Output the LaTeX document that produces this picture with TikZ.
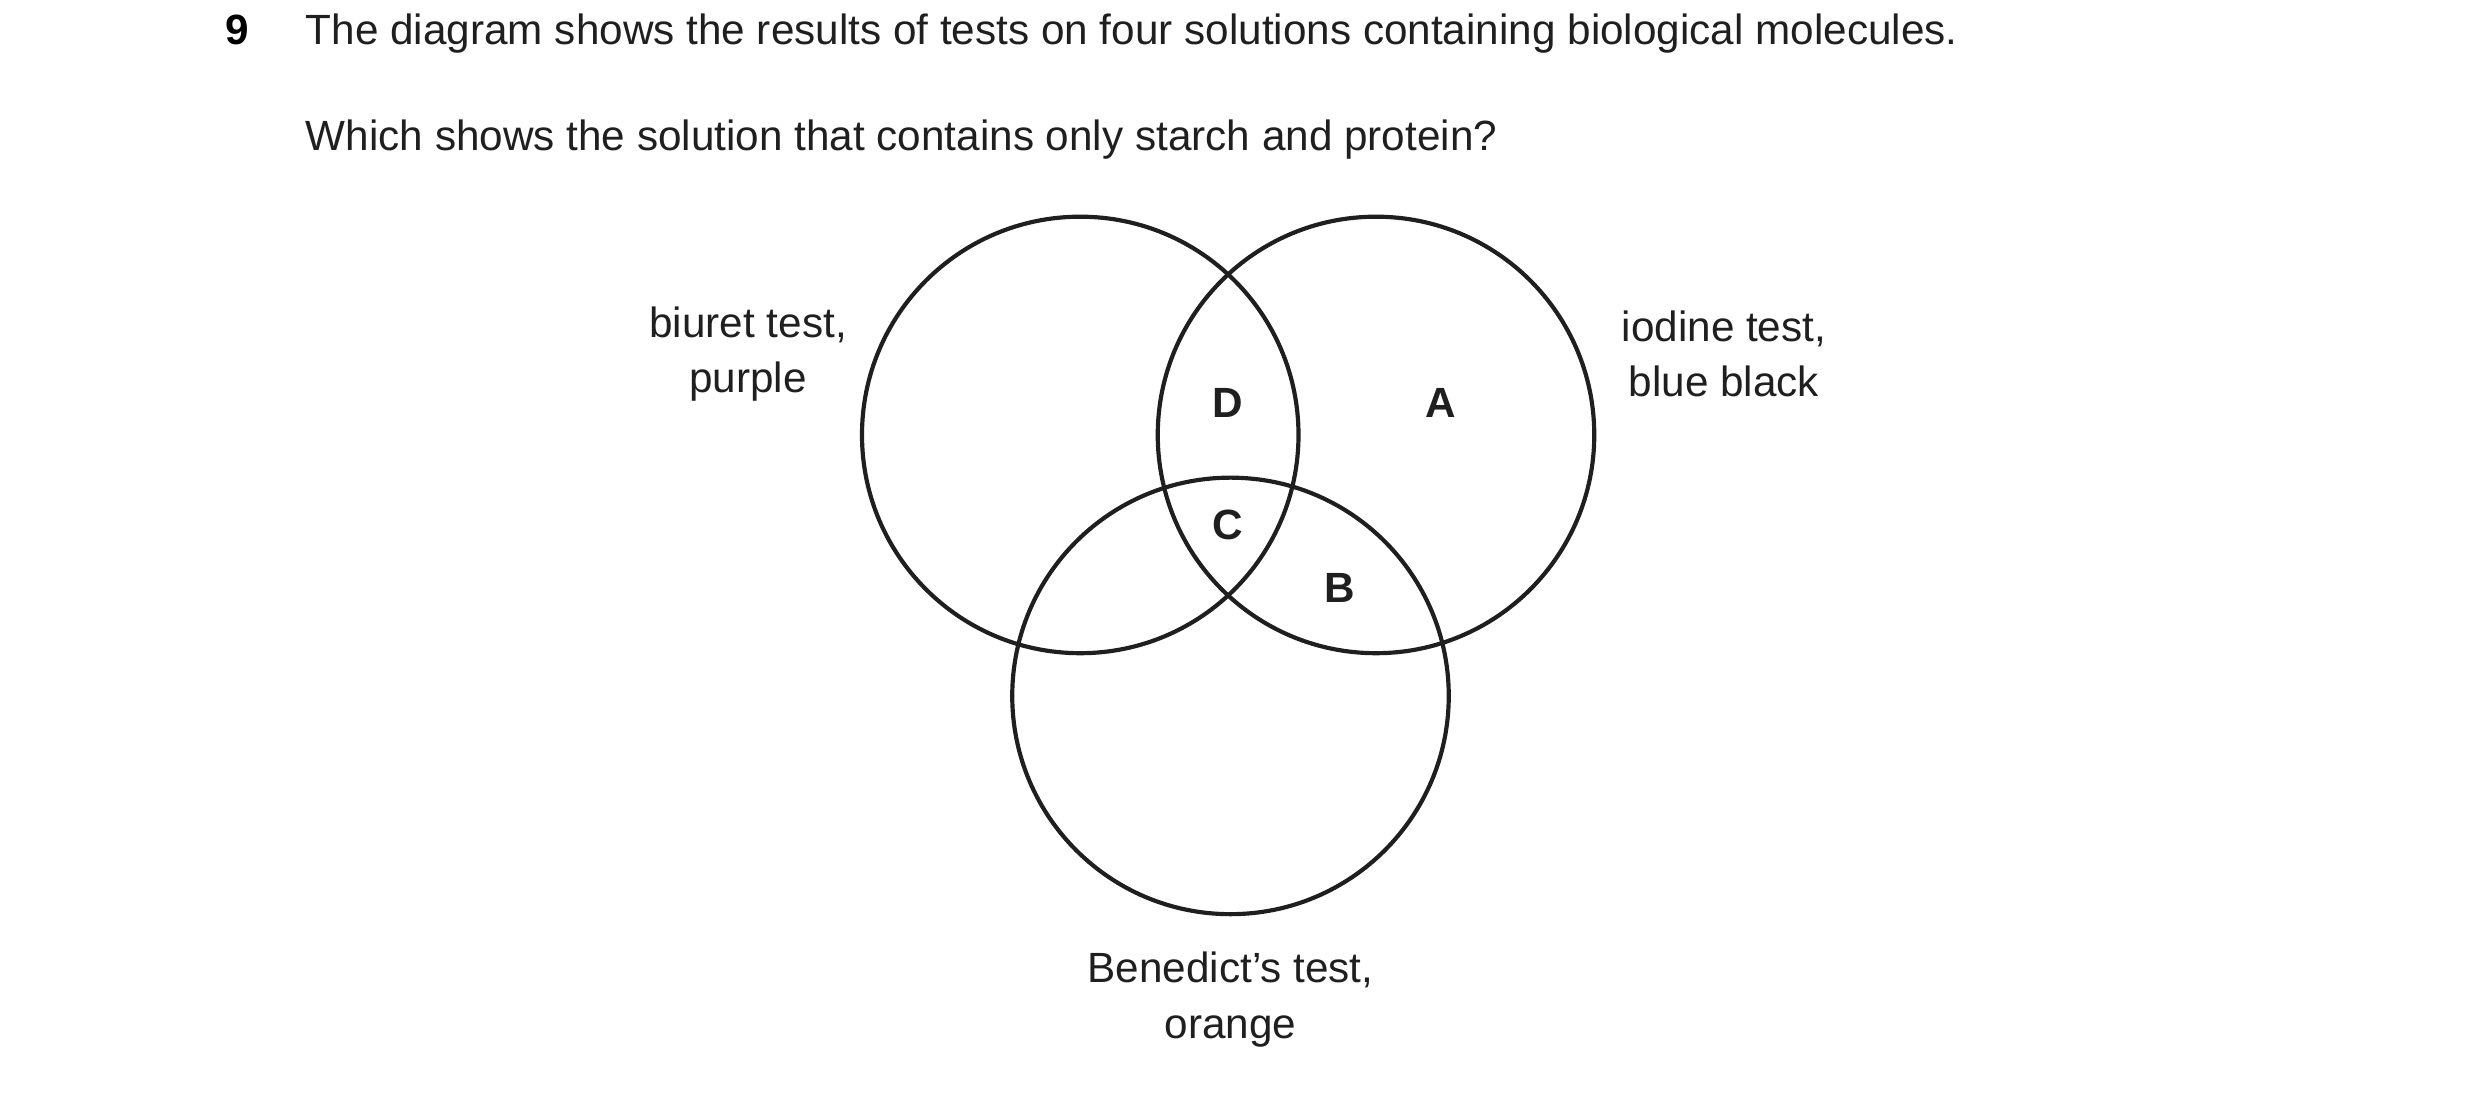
\documentclass[tikz,border=0pt]{standalone}
\usepackage{fontspec}
\setmainfont{Liberation Sans}
\begin{document}
\begin{tikzpicture}[x=0.01cm,y=-0.01cm,
  circ/.style={draw=black!88,line width=0.75pt},
  lab/.style={align=center,font=\fontsize{7.6}{9.9}\selectfont,text=black!88},
  let/.style={font=\fontsize{7.6}{9}\selectfont\bfseries,text=black!88}]
\useasboundingbox (0,0) rectangle (1568,691);
\node[anchor=base west,font=\fontsize{7.6}{9}\selectfont\bfseries] (n) at (130,28) {9};
\node[anchor=base west,lab] (t1) at (181,28) {The diagram shows the results of tests on four solutions containing biological molecules.};
\node[anchor=base west,lab] (t2) at (181,95) {Which shows the solution that contains only starch and protein?};
\draw[circ] (683,275) circle (138);
\draw[circ] (870,275) circle (138);
\draw[circ] (778,440) circle (138);
\node[lab] (bi) at (473,224) {biuret test,\\purple};
\node[lab] (io) at (1090,224) {iodine test,\\blue black};
\node[lab] (be) at (778,632) {Benedict’s test,\\orange};
\node[let] (D) at (776,255) {D};
\node[let] (A) at (911,255) {A};
\node[let] (C) at (776,332) {C};
\node[let] (B) at (847,372) {B};
\end{tikzpicture}
\end{document}
